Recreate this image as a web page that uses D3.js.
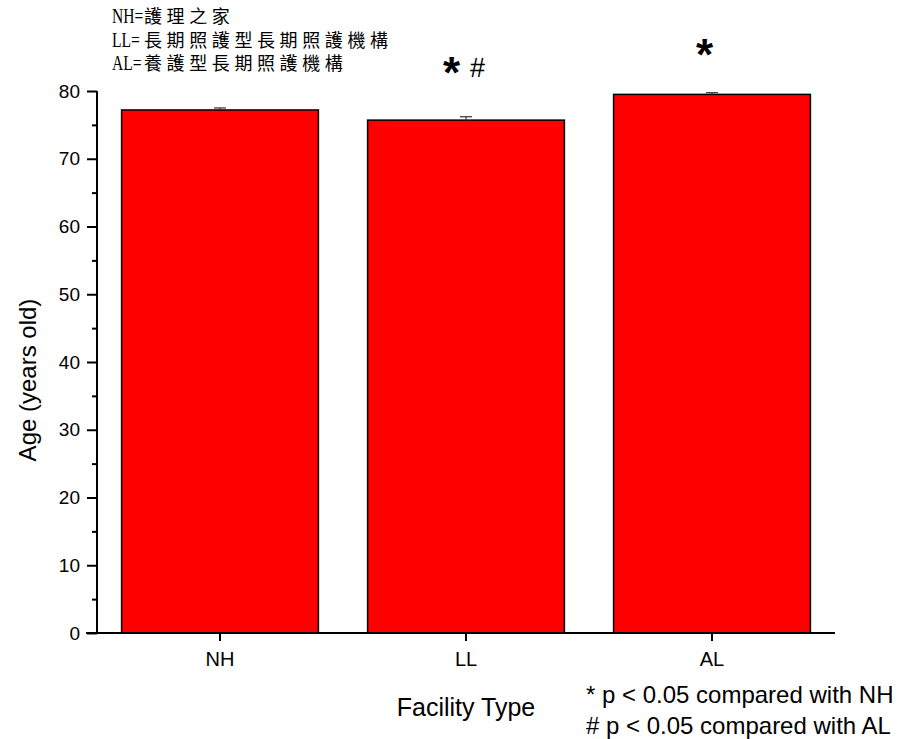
<!DOCTYPE html>
<html><head><meta charset="utf-8">
<script src="https://cdn.jsdelivr.net/npm/d3@7"></script>
<style>body{margin:0;background:#fff}svg{display:block}</style>
</head><body>
<script>
const categories = ["NH", "LL", "AL"];
const means = [77.2, 75.7, 79.5];
const errors = [0.3, 0.5, 0.25];
const yTicks = [0, 10, 20, 30, 40, 50, 60, 70, 80];
const yMinorTicks = [5, 15, 25, 35, 45, 55, 65, 75];
const marks = [{cat:"LL", star:"*", hash:"#"}, {cat:"AL", star:"*", hash:""}];
const legendLines = [["NH=", "護理之家"], ["LL=", "長期照護型長期照護機構"], ["AL=", "養護型長期照護機構"]];
const footnotes = ["* p < 0.05 compared with NH", "# p < 0.05 compared with AL"];

const W = 904, H = 739;
const svg = d3.select("body").append("svg").attr("width", W).attr("height", H);
const x = d3.scaleBand().domain(categories).range([97, 835]).paddingInner(0.2).paddingOuter(0.1);
const y = d3.scaleLinear().domain([0, 80]).range([633, 91]);
const font = "Liberation Sans, Arial, sans-serif";

// bars
svg.selectAll("rect.bar").data(categories).join("rect")
  .attr("x", d => x(d)).attr("width", x.bandwidth())
  .attr("y", (d,i) => y(means[i])).attr("height", (d,i) => y(0) - y(means[i]))
  .attr("fill", "#ff0000").attr("stroke", "#000").attr("stroke-width", 1.5);

// error bars (upper)
const eb = svg.append("g").attr("stroke", "#333").attr("stroke-width", 1.2);
categories.forEach((c, i) => {
  const cx = x(c) + x.bandwidth()/2;
  eb.append("line").attr("x1", cx).attr("x2", cx).attr("y1", y(means[i])).attr("y2", y(means[i] + errors[i]));
  eb.append("line").attr("x1", cx - 6).attr("x2", cx + 6).attr("y1", y(means[i] + errors[i])).attr("y2", y(means[i] + errors[i]));
});

// y axis
const yAxis = d3.axisLeft(y).tickValues(yTicks).tickSize(10).tickPadding(7).tickFormat(d3.format("d"));
const gy = svg.append("g").attr("transform", "translate(97,0)").call(yAxis);
gy.select(".domain").attr("stroke-width", 2).attr("d", `M0,${y(80)}V${y(0)}`);
gy.selectAll(".tick line").attr("stroke-width", 2);
gy.selectAll(".tick text").attr("font-family", font).attr("font-size", 19).attr("fill", "#000");
const gym = svg.append("g").attr("transform", "translate(97,0)")
  .call(d3.axisLeft(y).tickValues(yMinorTicks).tickSize(5).tickFormat(""));
gym.select(".domain").remove();
gym.selectAll(".tick line").attr("stroke-width", 2);

// x axis
const xAxis = d3.axisBottom(x).tickSize(8).tickPadding(11);
const gx = svg.append("g").attr("transform", `translate(0,${y(0)})`).call(xAxis);
gx.select(".domain").attr("stroke-width", 2).attr("d", "M86,0H835");
gx.selectAll(".tick line").attr("stroke-width", 2);
gx.selectAll(".tick text").attr("font-family", font).attr("font-size", 20).attr("fill", "#000");

// axis titles
svg.append("text").attr("transform", `translate(36,${(y(0)+y(80))/2 + 18}) rotate(-90)`)
  .attr("text-anchor", "middle").attr("font-family", font).attr("font-size", 24).text("Age (years old)");
svg.append("text").attr("x", x("LL") + x.bandwidth()/2).attr("y", 716)
  .attr("text-anchor", "middle").attr("font-family", font).attr("font-size", 25).text("Facility Type");

// significance marks
marks.forEach(m => {
  const i = categories.indexOf(m.cat);
  const cx = x(m.cat) + x.bandwidth()/2;
  const base = m.cat === "LL" ? 88 : 70;
  svg.append("text").attr("x", m.hash ? cx - 23 : cx - 16).attr("y", base)
    .attr("font-family", font).attr("font-weight", "bold").attr("font-size", 44).text(m.star);
  if (m.hash) svg.append("text").attr("x", cx + 4).attr("y", 77)
    .attr("font-family", font).attr("font-size", 27).text(m.hash);
});

// legend (top-left)
legendLines.forEach((l, i) => {
  const by = 23 + i*23.5;
  svg.append("text").attr("transform", `translate(112,${by}) scale(0.78,1)`)
    .attr("font-family", "Liberation Serif, serif").attr("font-size", 20).text(l[0]);
  svg.append("text").attr("x", 144).attr("y", by).attr("font-size", 18)
    .attr("font-family", "Noto Sans CJK TC, sans-serif").attr("letter-spacing", 4.6).text(l[1]);
});

// footnotes
footnotes.forEach((f, i) => {
  svg.append("text").attr("x", 586).attr("y", 703 + i*31)
    .attr("font-family", font).attr("font-size", 24).text(f);
});
</script>
</body></html>
